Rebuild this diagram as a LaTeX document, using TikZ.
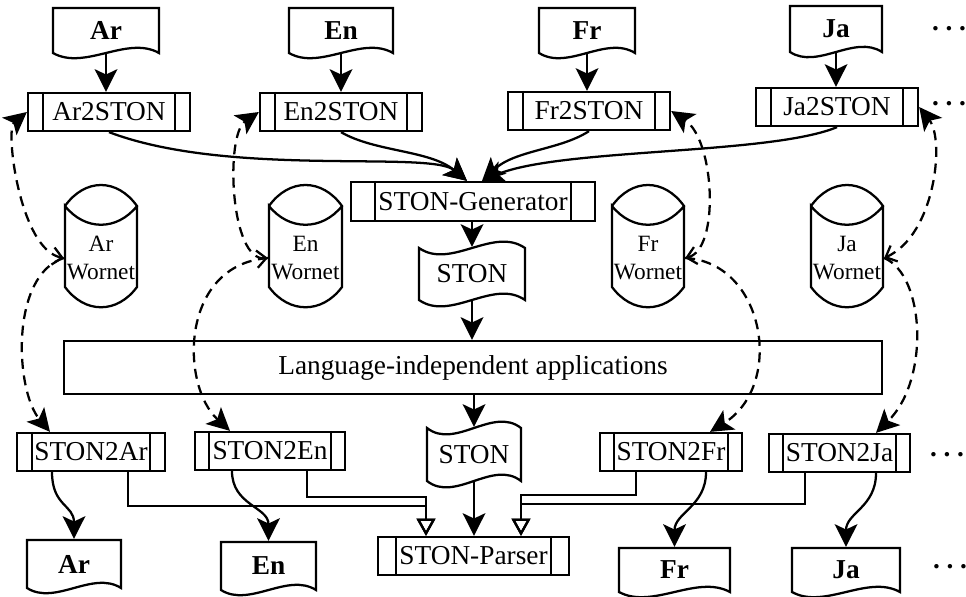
\documentclass[tikz,border=0pt]{standalone}
\usepackage{fontspec}
\setmainfont{Liberation Serif}
\usetikzlibrary{arrows.meta,calc}
\tikzset{
  pnode/.style={draw, rectangle, inner sep=0pt, font=\fontsize{20.5}{24}\selectfont},
  ghost/.style={rectangle, inner sep=0pt},
  lbl/.style={font=\fontsize{20.5}{24}\selectfont},
  dsh/.style={dash pattern=on 7.5pt off 5pt},
  bigtip/.tip={Stealth[length=17pt,width=17pt,inset=4pt]},
  arr/.style={-bigtip},
  oarr/.style={-{Triangle[open,length=13pt,width=14pt]}},
  dboth/.style={dsh, {Straight Barb[length=7pt,width=13pt]}-bigtip},
  darr/.style={dsh, -bigtip},
}
% name, x1, y1, x2, y2, bar, text
\newcommand\procbox[7]{%
  \node[pnode, minimum width={(#4-(#2))*0.75pt}, minimum height={(#5-(#3))*0.75pt}] (#1) at ({(#2+#4)/2},{(#3+#5)/2}) {#7};
  \draw ($(#1.north west)+(#6,0)$) -- ($(#1.south west)+(#6,0)$);
  \draw ($(#1.north east)+(-#6,0)$) -- ($(#1.south east)+(-#6,0)$);}
% name, x1, y1, x2, y2, text
\newcommand\docnode[6]{%
  \node[ghost, minimum width={(#4-(#2))*0.75pt}, minimum height={(#5-(#3))*0.75pt}, font=\fontsize{20.5}{24}\selectfont\bfseries] (#1) at ({(#2+#4)/2},{(#3+#5)/2}) {#6};
  \draw (#2,#3) -- (#4,#3) -- (#4,#5) .. controls ({#4-0.3*(#4-(#2))},{#5-18}) and ({#2+0.3*(#4-(#2))},{#5+18}) .. (#2,#5) -- cycle;}
\newcommand\tapenode[6]{%
  \node[ghost, minimum width={(#4-(#2))*0.75pt}, minimum height={(#5-(#3))*0.75pt}, lbl] (#1) at ({(#2+#4)/2},{(#3+#5)/2}) {#6};
  \draw (#2,#3) .. controls ({#2+0.3*(#4-(#2))},{#3+22}) and ({#4-0.3*(#4-(#2))},{#3-22}) .. (#4,#3) -- (#4,#5)
     .. controls ({#4-0.3*(#4-(#2))},{#5-22}) and ({#2+0.3*(#4-(#2))},{#5+22}) .. (#2,#5) -- cycle;}
% name, x1, x2, text
\newcommand\cylnode[4]{%
  \node[ghost, minimum width={(#3-(#2))*0.75pt}, minimum height=73.5pt, align=center, font=\fontsize{17.5}{21}\selectfont] (#1) at ({(#2+#3)/2},258) {#4};
  \draw (#2,206) .. controls ({#2+20},178) and ({#3-20},178) .. (#3,206)
     .. controls ({#3-20},231) and ({#2+20},231) .. (#2,206) -- (#2,287)
     .. controls ({#2+20},314) and ({#3-20},314) .. (#3,287) -- (#3,206);}
\begin{document}
\begin{tikzpicture}[x=0.75pt,y=-0.75pt,line width=1.7pt]
\useasboundingbox (0,0) rectangle (966,596);
% top documents
\docnode{dAr}{53}{8}{159}{53}{Ar}
\docnode{dEn}{289}{8}{393}{53}{En}
\docnode{dFr}{539}{8}{635}{53}{Fr}
\docnode{dJa}{790}{6}{882}{52}{Ja}
% converters
\procbox{arS}{28}{93}{190}{131}{16}{Ar2STON}
\procbox{enS}{260}{93}{422}{131}{16}{En2STON}
\procbox{frS}{508}{92}{670}{130}{16}{Fr2STON}
\procbox{jaS}{756}{88}{918}{126}{16}{Ja2STON}
\procbox{gen}{351}{182}{595}{221}{25}{STON-Generator}
\tapenode{stonA}{419}{248}{525}{300}{STON}
% wordnets
\cylnode{arW}{65}{137}{Ar\\Wornet}
\cylnode{enW}{269}{342}{En\\Wornet}
\cylnode{frW}{612}{684}{Fr\\Wornet}
\cylnode{jaW}{811}{883}{Ja\\Wornet}
% applications
\node[pnode, minimum width=613.5pt, minimum height=39.75pt] (lang) at (473,367.5) {Language-independent applications};
\tapenode{stonB}{427}{428}{521}{481}{STON}
\procbox{parser}{378}{537}{569}{575}{19}{STON-Parser}
\procbox{sAr}{17}{433}{165}{471}{16}{STON2Ar}
\procbox{sEn}{195}{432}{345}{470}{15}{STON2En}
\procbox{sFr}{600}{433}{742}{471}{15}{STON2Fr}
\procbox{sJa}{769}{434}{910}{472}{15}{STON2Ja}
% bottom documents
\docnode{bAr}{27}{540}{121}{588}{Ar}
\docnode{bEn}{221}{542}{316}{590}{En}
\docnode{bFr}{619}{548}{730}{592}{Fr}
\docnode{bJa}{792}{548}{900}{592}{Ja}
% ellipses
\node[lbl, inner sep=0pt, anchor=base west] (dots1) at (931,30) {\textbf{.\kern5pt.\kern5pt.}};
\node[lbl, inner sep=0pt, anchor=base west] (dots2) at (931,105) {\textbf{.\kern5pt.\kern5pt.}};
\node[lbl, inner sep=0pt, anchor=base west] (dots3) at (929,456) {\textbf{.\kern5pt.\kern5pt.}};
\node[lbl, inner sep=0pt, anchor=base west] (dots4) at (932,568) {\textbf{.\kern5pt.\kern5pt.}};
% documents to converters
\draw[arr] (dAr.south) -- (dAr.south |- arS.north);
\draw[arr] (dEn.south) -- (dEn.south |- enS.north);
\draw[arr] (dFr.south) -- (dFr.south |- frS.north);
\draw[arr] (dJa.south) -- (dJa.south |- jaS.north);
% converters to generator
\draw[arr] (arS.south) .. controls (230,178) and (430,150) .. ([xshift=-4.5pt]gen.north);
\draw[arr] (enS.south) .. controls (375,152) and (430,150) .. ([xshift=-4.5pt]gen.north);
\draw[arr] (frS.south) .. controls (560,150) and (515,150) .. ([xshift=6.75pt]gen.north);
\draw[arr] (jaS.south) .. controls (770,155) and (560,148) .. ([xshift=6.75pt]gen.north);
% central flow
\draw[arr] (gen.south -| stonA.north) -- (stonA.north);
\draw[arr] (stonA.south) -- (stonA.south |- lang.north);
\draw[arr] (stonB.north |- lang.south) -- (stonB.north);
\draw[arr] (stonB.south) -- (stonB.south |- parser.north);
% to parser
\draw[oarr] ($(sAr.south)+(37,0)$) |- ($(parser.north)+(-47.5,-30)$) -- ($(parser.north)+(-47.5,0)$);
\draw[oarr] ($(sEn.south)+(37,0)$) |- ($(parser.north)+(-47.5,-39)$) -- ($(parser.north)+(-47.5,0)$);
\draw[oarr] ($(sFr.south)+(-35,0)$) |- ($(parser.north)+(47.5,-41)$) -- ($(parser.north)+(47.5,0)$);
\draw[oarr] ($(sJa.south)+(-34.5,0)$) |- ($(parser.north)+(47.5,-32)$) -- ($(parser.north)+(47.5,0)$);
% to output documents
\draw[arr] ($(sAr.south)+(-39,0)$) .. controls +(0,34) and +(0,-34) .. (bAr.north);
\draw[arr] ($(sEn.south)+(-38,0)$) .. controls +(0,34) and +(0,-34) .. (bEn.north);
\draw[arr] ($(sFr.south)+(35,0)$) .. controls +(0,34) and +(0,-34) .. (bFr.north);
\draw[arr] ($(sJa.south)+(36.5,0)$) .. controls +(0,34) and +(0,-34) .. (bJa.north);
% wordnet links
\draw[dboth] (arW.west) .. controls (20,250) and (5,130) .. (arS.west);
\draw[darr] (arW.west) .. controls (10,275) and (15,390) .. ($(sAr.north)+(-41,0)$);
\draw[dboth] (enW.west) .. controls (230,262) and (225,135) .. (enS.west);
\draw[darr] (enW.west) .. controls (180,265) and (180,385) .. ($(sEn.north)+(-40,0)$);
\draw[dboth] (frW.east) .. controls (720,250) and (715,140) .. (frS.east);
\draw[darr] (frW.east) .. controls (765,262) and (785,385) .. ($(sFr.north)+(39,0)$);
\draw[dboth] (jaW.east) .. controls (935,235) and (945,140) .. (jaS.east);
\draw[darr] (jaW.east) .. controls (925,275) and (930,380) .. ($(sJa.north)+(36.5,0)$);
\end{tikzpicture}
\end{document}
